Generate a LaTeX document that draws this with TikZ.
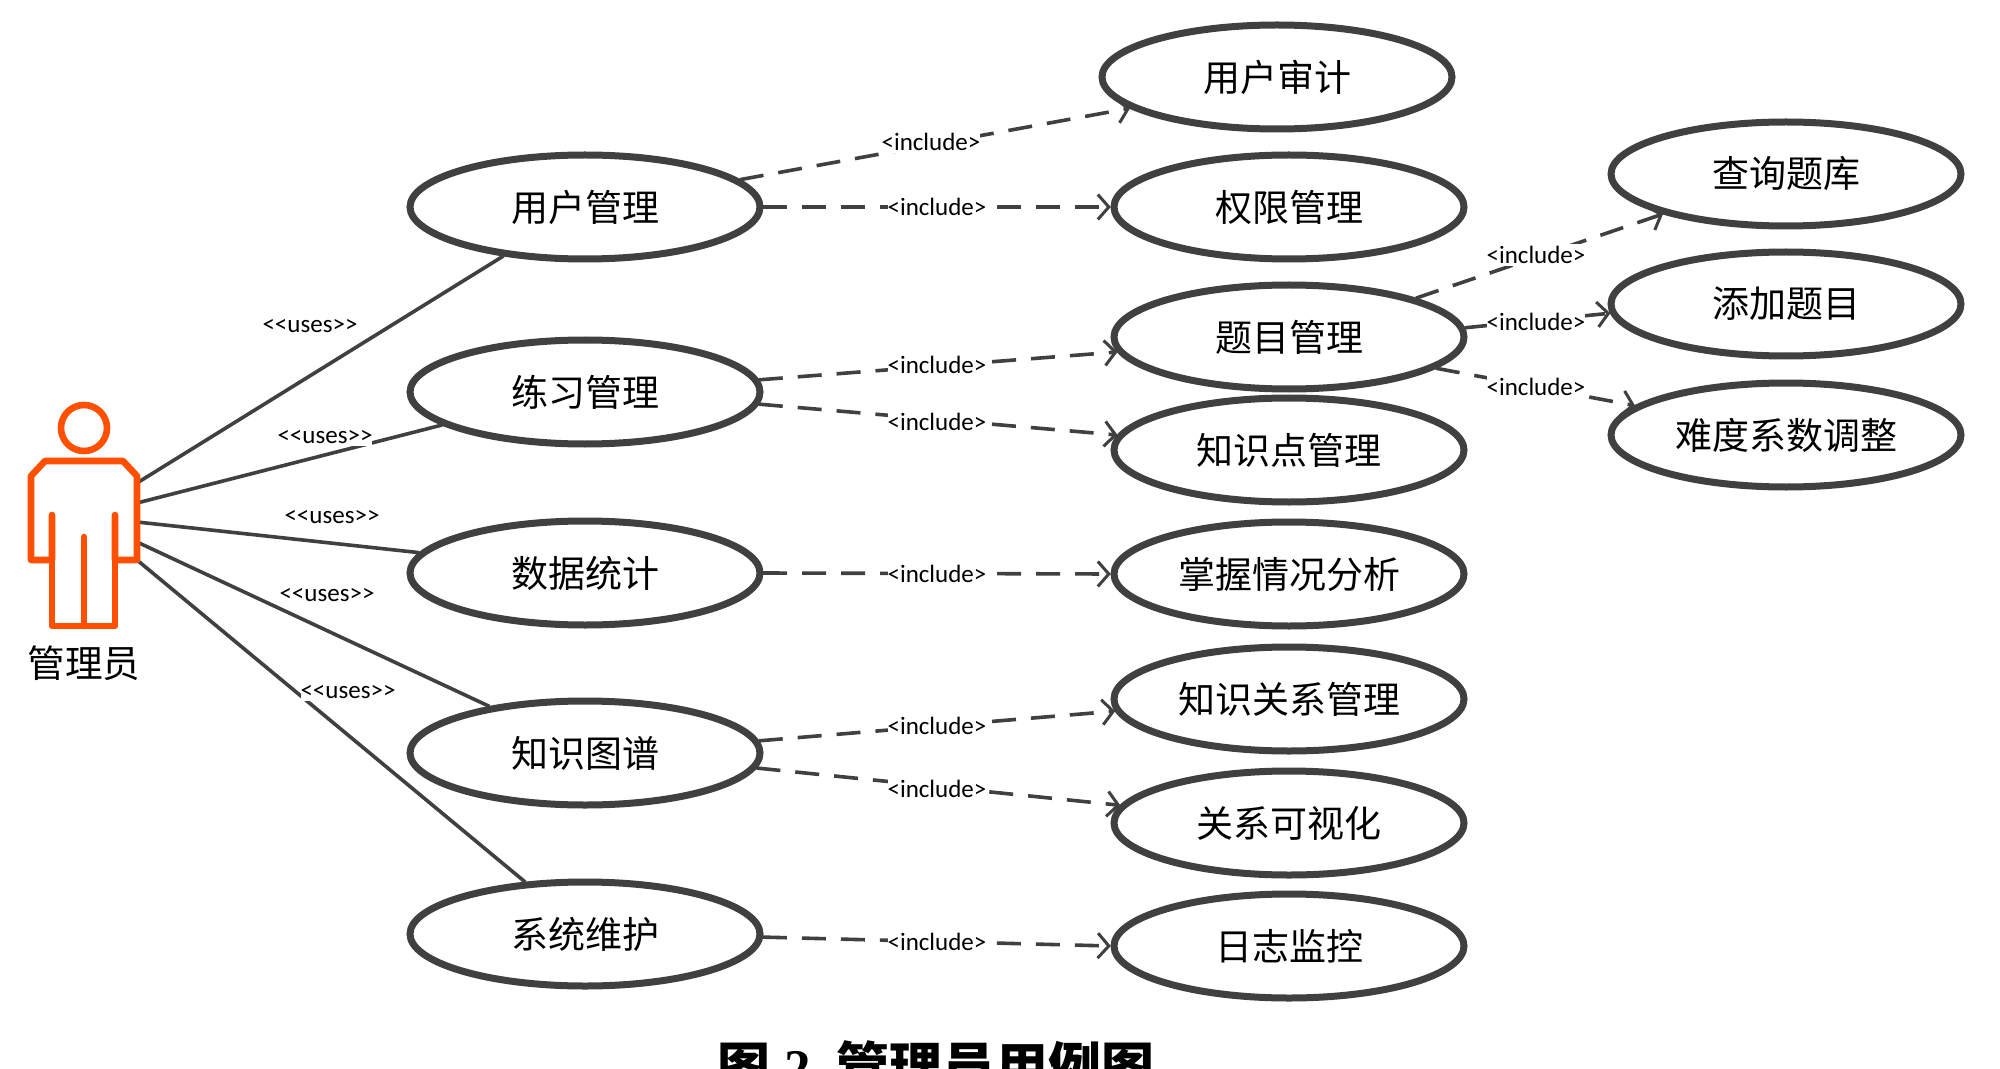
\documentclass[tikz,border=0pt]{standalone}
\usepackage{fontspec}
\usetikzlibrary{shapes.geometric,arrows.meta}
\setmainfont{Carlito}
\newfontfamily\cjk{Noto Sans CJK SC}
\newfontfamily\titleserif{Liberation Serif}
\definecolor{ink}{HTML}{404040}
\definecolor{actorc}{HTML}{FF4F00}
\begin{document}
\begin{tikzpicture}[x=0.5pt,y=-0.5pt,
  usecase/.style={ellipse,draw=ink,line width=3.5pt,fill=white,minimum width=175pt,minimum height=52pt,inner sep=0pt,outer sep=1.6pt,font=\cjk\fontsize{18.5}{20}\selectfont,text=black},
  incl/.style={draw=ink,line width=1.8pt,dash pattern=on 12pt off 7.5pt,-{Straight Barb[length=5.5pt,width=12.5pt,line width=1.5pt]}},
  useline/.style={draw=ink,line width=1.8pt},
  lbl/.style={fill=white,inner xsep=0pt,inner ysep=1pt,font=\fontsize{12.5}{14}\selectfont,text=black},
  actorline/.style={draw=actorc,line width=3.3pt,line join=round,line cap=round}]
\clip (0,0) rectangle (2000,1069);
\fill[white] (0,0) rectangle (2000,1069);
% connectors from actor
\coordinate (p1) at (137,483);
\coordinate (p2) at (137,503);
\coordinate (p3) at (137,522);
\coordinate (p4) at (137,542);
\coordinate (p5) at (137,560);
% use cases
\node[usecase] (yhgl) at (585,207) {用户管理};
\node[usecase] (lxgl) at (585,392) {练习管理};
\node[usecase] (sjtj) at (585,573) {数据统计};
\node[usecase] (zstp) at (585,753) {知识图谱};
\node[usecase] (xtwh) at (585,934) {系统维护};
\node[usecase] (yhsj) at (1277,77) {用户审计};
\node[usecase] (qxgl) at (1289,207) {权限管理};
\node[usecase] (tmgl) at (1289,337) {题目管理};
\node[usecase] (zsd) at (1289,450) {知识点管理};
\node[usecase] (zwqk) at (1289,574) {掌握情况分析};
\node[usecase] (zsgx) at (1289,699) {知识关系管理};
\node[usecase] (gxks) at (1289,823) {关系可视化};
\node[usecase] (rzjk) at (1289,946) {日志监控};
\node[usecase] (cxtk) at (1786,174) {查询题库};
\node[usecase] (tjtm) at (1786,304) {添加题目};
\node[usecase] (ndxs) at (1786,435) {难度系数调整};
% uses
\draw[useline] (p1) -- (yhgl.211.6);
\draw[useline] (p2) -- (lxgl.193.9);
\draw[useline] (p3) -- (sjtj.173.85);
\draw[useline] (p4) -- (zstp.154);
\draw[useline] (p5) -- (xtwh.139.6);
% include
\draw[incl] (yhgl.10.7) -- (yhsj.192.2);
\draw[incl] (yhgl.0) -- (qxgl.180);
\draw[incl] (lxgl.4.5) -- (tmgl.185);
\draw[incl] (lxgl.-4.9) -- (zsd.175.7);
\draw[incl] (sjtj.0) -- (zwqk.180);
\draw[incl] (zstp.4.2) -- (zsgx.184.6);
\draw[incl] (zstp.-5.6) -- (gxks.174.4);
\draw[incl] (xtwh.-1) -- (rzjk.180);
\draw[incl] (tmgl.17.7) -- (cxtk.198.7);
\draw[incl] (tmgl.3.2) -- (tjtm.183.4);
\draw[incl] (tmgl.-12) -- (ndxs.169.3);
% labels
\node[lbl] (u1) at (310,326) {<{}<uses>{}>};
\node[lbl] (u2) at (325,437) {<{}<uses>{}>};
\node[lbl] (u3) at (332,517) {<{}<uses>{}>};
\node[lbl] (u4) at (327,595) {<{}<uses>{}>};
\node[lbl] (u5) at (348,692) {<{}<uses>{}>};
\node[lbl] (i1) at (931,142) {<include>};
\node[lbl] (i2) at (937,207) {<include>};
\node[lbl] (i3) at (937,365) {<include>};
\node[lbl] (i4) at (937,422) {<include>};
\node[lbl] (i5) at (937,574) {<include>};
\node[lbl] (i6) at (937,726) {<include>};
\node[lbl] (i7) at (937,789) {<include>};
\node[lbl] (i8) at (937,942) {<include>};
\node[lbl] (i9) at (1536,255) {<include>};
\node[lbl] (i10) at (1536,322) {<include>};
\node[lbl] (i11) at (1536,387) {<include>};
% actor
\draw[actorline] (84,428) circle (23);
\draw[actorline] (52,515) -- (52,560) -- (31,560) -- (31,476) -- (45,461) -- (123,461) -- (137,476) -- (137,560) -- (115,560) -- (115,515);
\draw[actorline] (52,560) -- (52,626) -- (115,626) -- (115,560);
\draw[actorline] (84,537) -- (84,626);
\node[font=\cjk\fontsize{18.8}{20}\selectfont,text=black] (actor) at (84,663) {管理员};
% title
\node[anchor=base west,inner sep=0pt,font=\cjk\bfseries\fontsize{26.5}{30}\selectfont,text=black] (title) at (717,1086) {图\hspace{7pt}{\titleserif\bfseries 2}\hspace{13pt}管理员用例图};
\end{tikzpicture}
\end{document}
